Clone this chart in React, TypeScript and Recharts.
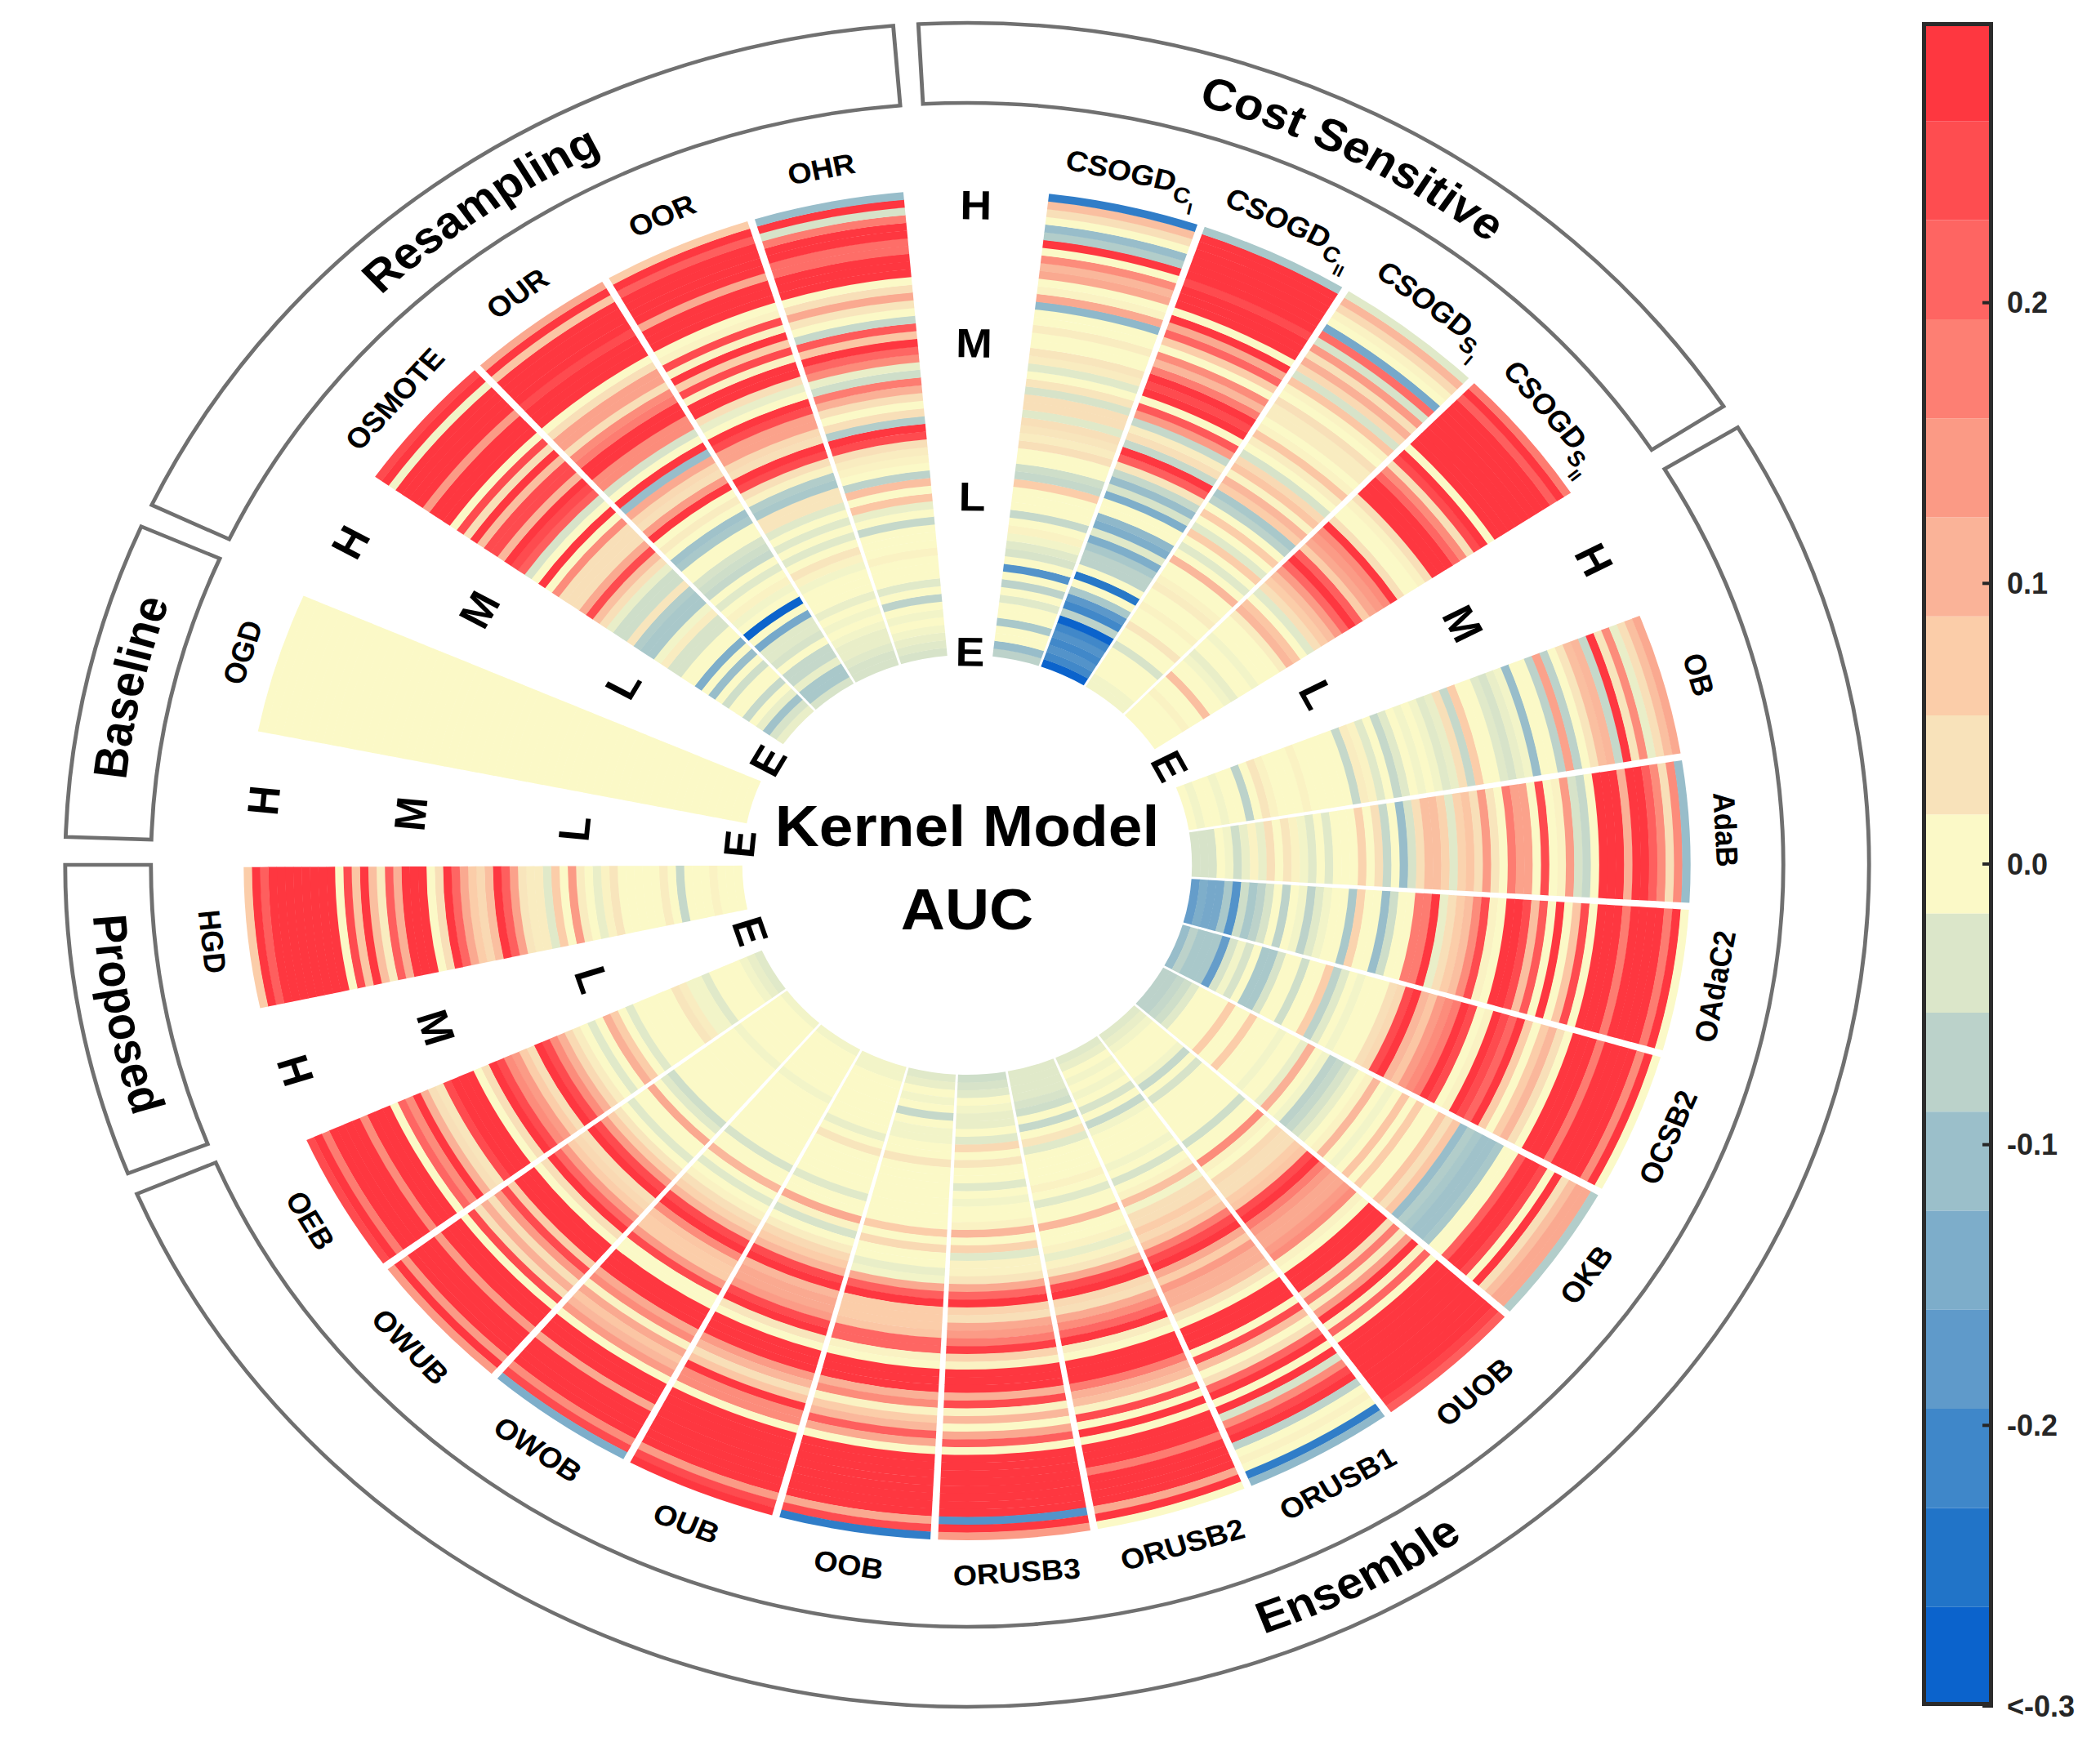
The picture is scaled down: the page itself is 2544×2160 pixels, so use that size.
import { Bar, BarChart, Cell, Pie, PieChart, XAxis, YAxis } from 'recharts'

// AUC difference x 100, inner ring first, 60 rings per method
const HGD = [0,0,0,1,0,0,0,-6,0,2, 0,0,0,0,0,3,1,-2,0,2, 14,0,7,-3,2,2,3,13,22,30, 9,5,7,12,21,30,4,0,30,30, 30,11,22,2,9,30,8,25,0,30, 30,30,30,30,30,30,30,22,30,7]
const OGD = [0,0,0,0,0,0,0,0,0,0, 0,0,0,0,0,0,0,0,0,0, 0,0,0,0,0,0,0,0,0,0, 0,0,0,0,0,0,0,0,0,0, 0,0,0,0,0,0,0,0,0,0, 0,0,0,0,0,0,0,0,0,0]
const OSMOTE = [-2,-4,-10,-2,0,-6,0,0,-5,0, -11,0,-14,0,0,-4,-4,2,-1,-9, -9,-8,3,-5,-5,-2,4,9,25,12, 4,4,4,16,0,30,0,-4,22,25, 30,10,25,25,9,30,4,25,0,30, 30,30,14,30,30,30,30,-1,30,25]
const OUR = [-4,-9,-9,-2,-6,-6,0,-4,-3,-3, -15,0,-30,0,-1,1,0,-3,0,-6, -5,-4,0,0,-9,-10,0,2,0,30, 14,4,5,12,-11,30,0,-4,16,16, 30,30,18,16,4,13,13,4,0,30, 30,30,25,30,30,30,30,8,30,12]
const OOR = [-4,-4,-3,-2,-2,-1,0,-1,0,-2, 0,0,0,-1,1,3,0,-3,0,-3, 0,-3,3,3,-9,-8,1,4,25,30, 4,5,13,13,25,30,0,-2,4,30, 30,1,25,7,30,1,25,1,0,30, 30,30,12,30,30,30,30,22,30,7]
const OHR = [-4,-3,-2,-1,0,-1,0,-7,0,-3, 0,0,0,1,0,0,0,-6,0,-2, 8,0,9,-7,0,1,2,4,25,30, -8,4,0,4,11,18,-5,-2,16,21, 30,8,23,-6,0,3,12,4,0,30, 30,30,20,20,30,30,18,-4,30,-11]
const CSOGD_CI = [-7,-11,0,0,-9,0,0,-3,0,-7, 0,-19,0,-4,-3,-1,1,0,-6,0, 0,0,7,-6,-5,0,0,4,2,3, 4,-3,4,4,-4,3,0,-3,2,3, 0,0,2,0,0,-12,12,1,0,12, 10,16,0,30,-8,-11,0,4,9,-23]
const CSOGD_CII = [-30,-21,-19,-21,-19,-21,-30,-7,-21,-18, -9,0,-24,0,-7,-7,-9,-14,-3,-14, -12,0,0,-14,-4,-11,-6,3,22,30, -6,4,2,-6,14,23,0,30,25,30, 18,10,16,0,7,21,12,30,0,30, 30,30,25,30,30,30,30,30,30,-9]
const CSOGD_SI = [-1,-1,0,0,0,0,-4,0,0,3, 0,0,1,0,0,2,1,0,0,10, 0,-3,0,7,-3,0,7,0,-7,-9, 7,10,1,8,5,-4,0,2,8,1, 0,2,2,4,0,1,8,-4,5,11, 4,14,-4,20,-15,0,1,5,10,-3]
const CSOGD_SII = [0,0,0,0,1,0,0,9,0,0, -1,-2,0,0,-1,0,0,0,2,10, 8,0,-3,4,7,9,14,21,30,22, 7,12,14,16,30,4,0,0,1,4, 30,30,30,21,16,4,25,30,0,30, 30,30,30,30,30,30,30,22,30,18]
const OB = [0,-1,0,0,-1,0,0,-7,0,3, 1,0,0,0,1,0,0,0,0,0, -6,2,1,-3,0,-6,-3,0,-1,0, -1,-3,-2,4,-6,7,0,0,-3,-4, -2,-1,-11,0,0,-7,13,-7,0,3, 9,10,-6,30,3,16,-2,4,9,12]
const ADAB = [-4,-4,-4,0,-1,-5,-2,1,-2,4, 0,3,1,-1,-3,0,-3,0,0,0, 6,0,4,-6,0,-11,-4,4,9,9, 6,-3,6,8,4,14,3,0,18,13, 13,0,25,0,1,14,-4,-6,0,30, 30,30,11,30,30,22,16,4,16,-11]
const OADAC2 = [-17,-14,-15,-15,-9,-19,-5,-9,-7,-4, 0,-7,0,-1,-7,-3,-1,0,0,-9, 6,0,0,-11,-5,0,0,18,18,30, -2,4,7,9,16,25,1,0,30,30, 25,9,23,0,30,0,8,25,0,30, 30,30,18,30,30,30,30,18,30,0]
const OCSB2 = [-11,-7,-9,-9,-9,-17,-4,-1,-4,0, -9,-9,-4,0,0,-5,0,0,7,-7, -3,0,-1,0,0,0,4,5,25,30, 10,8,14,16,18,30,25,0,1,30, 25,21,30,7,0,7,10,4,0,30, 30,30,18,30,30,30,30,16,30,0]
const OKB = [-7,-7,-6,-5,-3,0,0,0,0,7, 0,0,7,0,0,0,-1,0,0,-2, 11,0,-1,-7,-6,-4,-2,0,1,10, 0,-1,0,8,0,7,0,0,8,4, 8,-11,-8,-9,-10,-10,-9,0,0,22, 30,30,25,0,30,4,9,12,12,-8]
const OUOB = [-3,-2,-1,0,0,0,0,-1,-6,0, -4,0,0,0,0,0,0,-5,0,0, 16,1,0,5,4,4,7,8,25,30, 18,14,12,12,14,16,1,0,30,30, 30,4,18,2,14,30,1,21,0,30, 30,30,30,30,30,30,30,30,26,22]
const ORUSB1 = [-3,-2,0,-1,0,-1,0,-4,0,-6, -1,0,0,0,0,-1,0,-4,0,1, 9,-1,4,4,7,5,8,18,25,30, 12,7,14,11,11,9,3,0,30,30, 30,0,25,9,0,4,21,30,0,30, -4,16,25,30,-7,0,1,0,-23,-12]
const ORUSB2 = [-3,-3,-3,-3,-4,-5,0,-6,0,3, -3,0,0,0,0,1,0,-3,0,0, 10,0,0,1,-2,1,3,12,25,30, 5,4,12,16,21,30,2,0,30,30, 30,18,11,9,1,25,0,30,0,30, 30,30,18,30,30,30,30,12,30,0]
const ORUSB3 = [-5,-4,-3,0,-1,-2,-2,0,-3,5, 0,3,0,0,-3,0,-1,0,0,1, 10,0,6,-3,1,1,3,12,21,29, 6,4,12,14,18,27,6,1,30,30, 30,11,25,1,10,0,12,22,0,30, 30,30,30,30,30,30,30,-19,30,14]
const OOB = [-3,-2,0,-1,0,-6,0,-1,-1,0, 0,3,0,0,0,0,0,0,0,0, 7,0,5,0,0,-2,-1,12,22,30, 7,7,7,8,21,21,1,0,30,30, 30,11,16,1,7,10,22,12,0,30, 30,30,30,30,30,30,30,12,25,-23]
const OUB = [-1,-1,0,0,0,0,0,0,0,-2, 0,3,0,0,0,0,0,-3,0,0, 12,1,-4,0,2,5,7,10,25,30, 10,12,12,14,25,30,3,0,30,30, 30,14,10,4,8,30,16,16,0,30, 30,30,30,30,30,30,30,14,25,30]
const OWOB = [-1,0,0,0,0,0,0,-1,0,0, 0,0,0,0,0,0,0,-4,0,0, 10,0,-3,0,1,4,6,10,25,30, 16,8,7,7,14,25,0,0,30,30, 30,12,16,1,12,8,10,14,0,30, 30,30,12,30,30,30,30,16,25,-14]
const OWUB = [-1,0,0,0,0,0,0,-1,0,0, 0,0,0,0,0,0,0,-5,-3,0, 12,0,0,-3,0,3,7,14,25,30, 4,5,7,14,21,30,4,0,30,30, 30,7,25,14,4,11,4,25,0,30, 30,30,14,30,30,30,30,14,30,14]
const OEB = [-3,-2,-1,0,0,0,0,-3,-1,-1, 2,3,0,0,0,0,0,-3,0,7, 11,0,-3,0,2,5,11,16,25,30, 4,7,14,16,25,30,4,0,30,30, 30,25,3,4,11,30,16,21,0,30, 30,30,16,30,30,30,30,18,30,25]

// clockwise from the top, null is one of the H/M/L/E gaps
const SLOTS = [
  { name: 'CSOGD', sub: 'C', subsub: 'I', values: CSOGD_CI },
  { name: 'CSOGD', sub: 'C', subsub: 'II', values: CSOGD_CII },
  { name: 'CSOGD', sub: 'S', subsub: 'I', values: CSOGD_SI },
  { name: 'CSOGD', sub: 'S', subsub: 'II', values: CSOGD_SII },
  null,
  { name: 'OB', values: OB },
  { name: 'AdaB', values: ADAB },
  { name: 'OAdaC2', values: OADAC2 },
  { name: 'OCSB2', values: OCSB2 },
  { name: 'OKB', values: OKB },
  { name: 'OUOB', values: OUOB },
  { name: 'ORUSB1', values: ORUSB1 },
  { name: 'ORUSB2', values: ORUSB2 },
  { name: 'ORUSB3', values: ORUSB3 },
  { name: 'OOB', values: OOB },
  { name: 'OUB', values: OUB },
  { name: 'OWOB', values: OWOB },
  { name: 'OWUB', values: OWUB },
  { name: 'OEB', values: OEB },
  null,
  { name: 'HGD', values: HGD },
  null,
  { name: 'OGD', values: OGD },
  null,
  { name: 'OSMOTE', values: OSMOTE },
  { name: 'OUR', values: OUR },
  { name: 'OOR', values: OOR },
  { name: 'OHR', values: OHR },
  null,
]

const TIERS = [
  { title: 'H', radius: 808 },
  { title: 'M', radius: 639 },
  { title: 'L', radius: 451 },
  { title: 'E', radius: 261 },
]

const GROUPS = [
  { title: 'Cost Sensitive', span: 60.1 },
  { title: null, span: 1.7 },
  { title: 'Ensemble', span: 188.3 },
  { title: null, span: 1.5 },
  { title: 'Proposed', span: 21.5 },
  { title: null, span: 1.9 },
  { title: 'Baseline', span: 21.8 },
  { title: null, span: 1.6 },
  { title: 'Resampling', span: 60 },
  { title: null, span: 1.6 },
]

const BAND_COLORS = [
  '#fe3740', '#fe4d50', '#fe6562', '#fd7f73', '#fb9a85', '#fab398', '#fbcda9', '#f8e2ba', '#fbf9c7',
  '#dbe6c9', '#bbd2ca', '#9bbfca', '#7dadca', '#5f9aca', '#3f87c9', '#2174c8', '#0b63cc',
]
const BAR_TICKS = [-0.3, -0.2, -0.1, 0, 0.1, 0.2]

const RING_COUNT = 60
const FONT = '"Liberation Sans", Arial, sans-serif'
const STRETCH = 1.071
const CX = 1184 / STRETCH
const CY = 1059
const INNER = 257
const RING = 9.5
const PAD = 0.6
const START = 83.5

const hex = (c: string) => [1, 3, 5].map((i) => parseInt(c.slice(i, i + 2), 16))

const colorOf = (v: number) => {
  const pos = Math.min(16, Math.max(0, 8 - (v / 100) / (0.6 / 17)))
  const i = Math.min(15, Math.floor(pos))
  const t = pos - i
  const a = hex(BAND_COLORS[i])
  const b = hex(BAND_COLORS[i + 1])
  return `rgb(${a.map((x, k) => Math.round(x + (b[k] - x) * t)).join(',')})`
}

const clock = (midAngle: number) => ((90 - midAngle) % 360 + 360) % 360

const RadialText = (props: any) => {
  const { cx, cy, midAngle, outerRadius, payload } = props
  const p = payload ?? props
  if (!p.title) return null
  const th = clock(midAngle)
  const rad = (th * Math.PI) / 180
  const x = cx + outerRadius * Math.sin(rad)
  const y = cy - outerRadius * Math.cos(rad)
  const rot = th < 90 || th > 270 ? th : th - 180
  return (
    <text
      x={x}
      y={y}
      transform={`rotate(${rot} ${x} ${y})`}
      textAnchor="middle"
      dominantBaseline="central"
      fontFamily={FONT}
      fontWeight="bold"
      fontSize={p.size}
      fill="#000"
    >
      {p.title}
      {p.sub && (
        <tspan fontSize={27} dy={14}>
          {p.sub}
        </tspan>
      )}
      {p.subsub && (
        <tspan fontSize={20} dy={14}>
          {p.subsub}
        </tspan>
      )}
    </text>
  )
}

const ArcText = (props: any) => {
  const { cx, cy, midAngle, index, payload } = props
  const p = payload ?? props
  if (!p.title) return null
  const th = clock(midAngle)
  const upper = th < 90 || th > 270
  const r = upper ? 967 : 1001
  const pt = (a: number) => {
    const rad = (a * Math.PI) / 180
    return `${cx + r * Math.sin(rad)} ${cy - r * Math.cos(rad)}`
  }
  const d = upper
    ? `M ${pt(th - 60)} A ${r} ${r} 0 0 1 ${pt(th + 60)}`
    : `M ${pt(th + 60)} A ${r} ${r} 0 0 0 ${pt(th - 60)}`
  const id = `group-arc-${index}`
  return (
    <g>
      <path id={id} d={d} fill="none" stroke="none" />
      <text fontFamily={FONT} fontWeight="bold" fontSize={54.5} fill="#000" textAnchor="middle">
        <textPath href={`#${id}`} startOffset="50%">
          {p.title}
        </textPath>
      </text>
    </g>
  )
}

// the ensemble columns run a bit wider, the gaps after them a bit narrower
const slotSpan = (s: any, i: number) => {
  if (!s) {
    if (i === 21 || i === 23) return 10.4
    return i === 28 ? 10.36 : 10.6
  }
  if (i >= 5 && i <= 18) return 12.13
  if (i >= 24) return 12.02
  return 12.07
}

const ringRows = Array.from({ length: RING_COUNT }, (_, ring) =>
  SLOTS.map((s, i) => ({ span: slotSpan(s, i), value: s ? s.values[ring] : null })),
)
const methodRows = SLOTS.map((s, i) => ({ span: slotSpan(s, i), title: s?.name, sub: s?.sub, subsub: s?.subsub, size: 35 }))

const half = 0.3 / 17
const step = 0.6 / 17
const barRow: Record<string, number | string> = { name: 'scale' }
BAND_COLORS.forEach((_, i) => {
  const lvl = 8 - i
  if (lvl === 0) {
    barRow.up0 = half
    barRow.down0 = -half
  } else if (lvl > 0) barRow[`up${lvl}`] = step
  else barRow[`down${-lvl}`] = -step
})
const upBands = [0, 1, 2, 3, 4, 5, 6, 7, 8]
const downBands = [0, 1, 2, 3, 4, 5, 6, 7, 8]

const App = () => {
  return (
    <div style={{ position: 'absolute', left: 0, top: 0, width: 2544, height: 2160, background: '#fff', overflow: 'hidden' }}>
      <div style={{ position: 'absolute', left: 0, top: 0, transform: `scaleX(${STRETCH})`, transformOrigin: '0 0' }}>
        <PieChart width={2200} height={2160} margin={{ top: 0, right: 0, bottom: 0, left: 0 }}>
          {ringRows.map((rows, ring) => (
            <Pie
              key={ring}
              data={rows}
              dataKey="span"
              cx={CX}
              cy={CY}
              startAngle={START}
              endAngle={START - 360}
              innerRadius={INNER + RING * ring}
              outerRadius={INNER + RING * (ring + 1) + (ring < RING_COUNT - 1 ? 0.4 : 0)}
              paddingAngle={PAD}
              stroke="none"
              isAnimationActive={false}
            >
              {rows.map((row, i) => (
                <Cell key={i} fill={row.value === null ? 'none' : colorOf(row.value)} stroke="none" />
              ))}
            </Pie>
          ))}
          <Pie
            data={methodRows}
            dataKey="span"
            cx={CX}
            cy={CY}
            startAngle={START}
            endAngle={START - 360}
            innerRadius={868}
            outerRadius={868}
            paddingAngle={PAD}
            fill="none"
            stroke="none"
            label={RadialText}
            labelLine={false}
            isAnimationActive={false}
          />
          {TIERS.map((tier) => (
            <Pie
              key={tier.title}
              data={SLOTS.map((s, i) => ({ span: slotSpan(s, i), title: s ? null : tier.title, size: 50 }))}
              dataKey="span"
              cx={CX}
              cy={CY}
              startAngle={START}
              endAngle={START - 360}
              innerRadius={tier.radius}
              outerRadius={tier.radius}
              paddingAngle={PAD}
              fill="none"
              stroke="none"
              label={RadialText}
              labelLine={false}
              isAnimationActive={false}
            />
          ))}
          <Pie
            data={GROUPS}
            dataKey="span"
            cx={CX}
            cy={CY}
            startAngle={90 - 356.9}
            endAngle={90 - 356.9 - 360}
            innerRadius={933}
            outerRadius={1031}
            fill="none"
            stroke="none"
            label={ArcText}
            labelLine={false}
            isAnimationActive={false}
          >
            {GROUPS.map((g, i) => (
              <Cell key={i} fill="none" stroke={g.title ? '#707070' : 'none'} strokeWidth={4.5} />
            ))}
          </Pie>
          <text x={CX} y={1011} textAnchor="middle" dominantBaseline="central" fontFamily={FONT} fontWeight="bold" fontSize={70} fill="#000">
            Kernel Model
          </text>
          <text x={CX} y={1113} textAnchor="middle" dominantBaseline="central" fontFamily={FONT} fontWeight="bold" fontSize={70} fill="#000">
            AUC
          </text>
        </PieChart>
      </div>
      <div style={{ position: 'absolute', left: 2353, top: 27 }}>
        <BarChart
          width={191}
          height={2102}
          data={[barRow]}
          stackOffset="sign"
          barCategoryGap={0}
          margin={{ top: 0, right: 0, bottom: 40, left: 0 }}
        >
          <XAxis dataKey="name" hide />
          <YAxis
            orientation="right"
            type="number"
            domain={[-0.3, 0.3]}
            ticks={BAR_TICKS}
            width={104}
            axisLine={false}
            tickSize={-13}
            tickMargin={30}
            interval={0}
            tickFormatter={(v: number) => (v === -0.3 ? '<-0.3' : v.toFixed(1))}
            tick={{ fontFamily: FONT, fontWeight: 'bold', fontSize: 36, fill: '#262626' }}
            tickLine={{ stroke: '#262626', strokeWidth: 4 }}
          />
          {upBands.map((lvl) => (
            <Bar key={`up${lvl}`} dataKey={`up${lvl}`} stackId="scale" fill={BAND_COLORS[8 - lvl]} isAnimationActive={false} />
          ))}
          {downBands.map((lvl) => (
            <Bar key={`down${lvl}`} dataKey={`down${lvl}`} stackId="scale" fill={BAND_COLORS[8 + lvl]} isAnimationActive={false} />
          ))}
        </BarChart>
      </div>
      <div
        style={{
          position: 'absolute',
          left: 2353,
          top: 27,
          width: 87,
          height: 2062,
          boxSizing: 'border-box',
          border: '5px solid #2b2b2b',
        }}
      />
    </div>
  )
}

export default App
